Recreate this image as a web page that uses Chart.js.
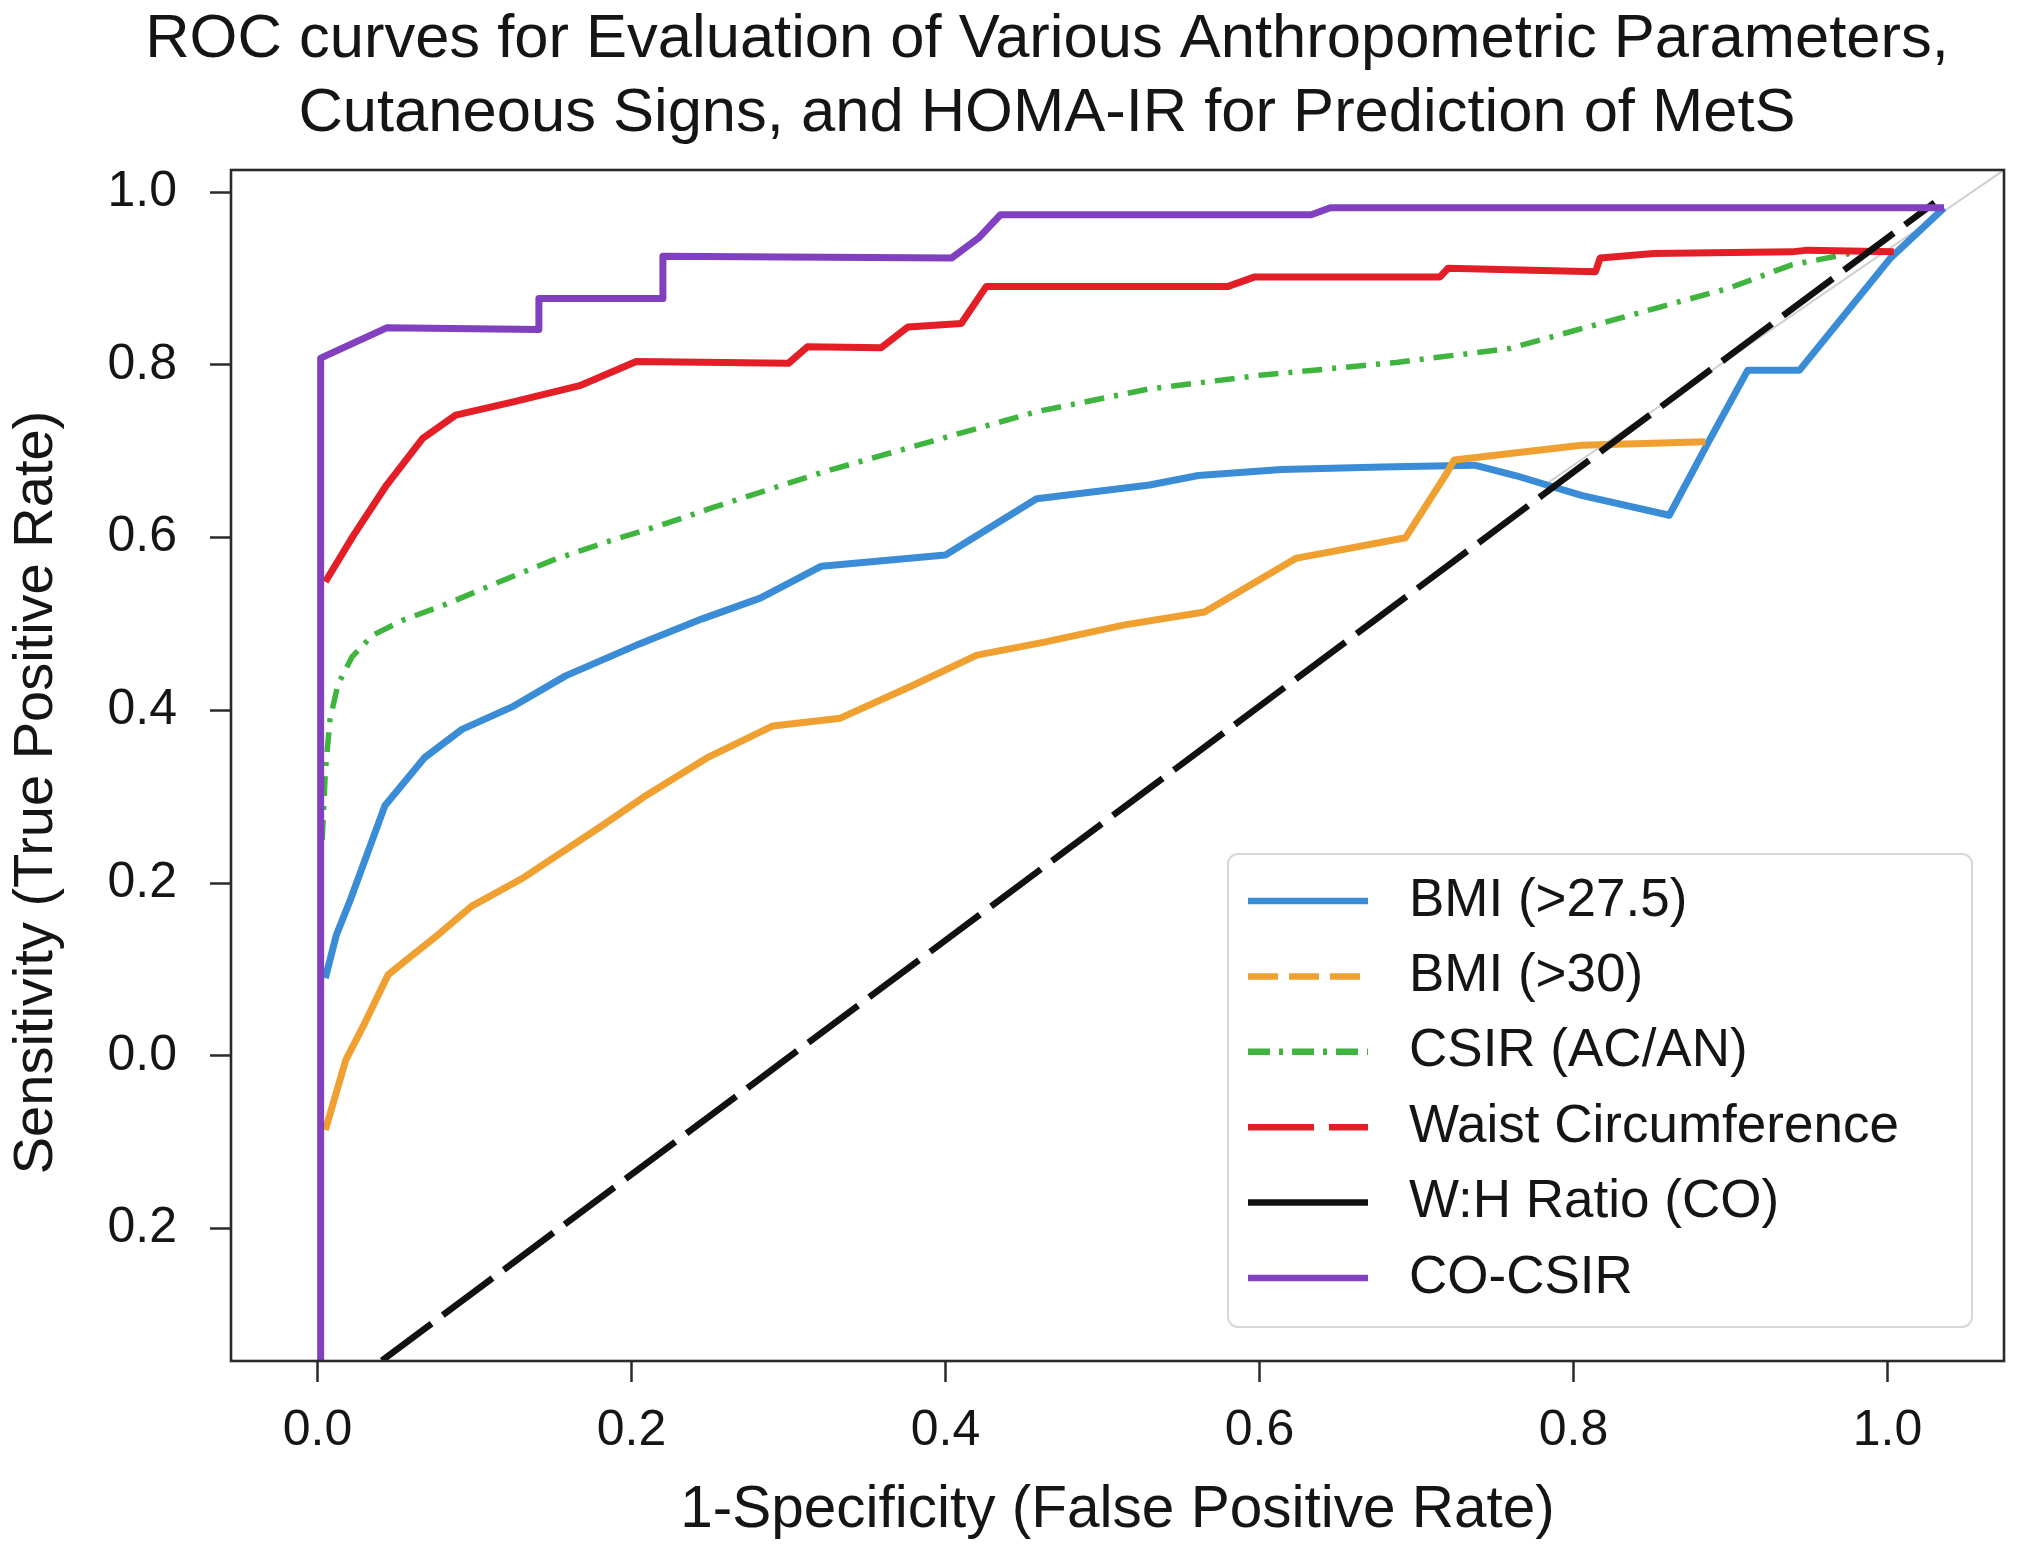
<!DOCTYPE html>
<html>
<head>
<meta charset="utf-8">
<script src="https://cdn.jsdelivr.net/npm/chart.js@4.4.1/dist/chart.umd.min.js"></script>
<style>
  html, body { margin: 0; padding: 0; background: #ffffff; }
  #wrap { width: 2017px; height: 1553px; position: relative; }
</style>
</head>
<body>
<div id="wrap"><canvas id="roc"></canvas></div>
<script>
// ---------------- data ----------------
const titleLines = [
  'ROC curves for Evaluation of Various Anthropometric Parameters,',
  'Cutaneous Signs, and HOMA-IR for Prediction of MetS'
];
const xAxisTitle = '1-Specificity (False Positive Rate)';
const yAxisTitle = 'Sensitivity (True Positive Rate)';

const xTicks = [0.0, 0.2, 0.4, 0.6, 0.8, 1.0];
const xTickLabels = ['0.0', '0.2', '0.4', '0.6', '0.8', '1.0'];
const yTicks = [-0.2, 0.0, 0.2, 0.4, 0.6, 0.8, 1.0];
const yTickLabels = ['0.2', '0.0', '0.2', '0.4', '0.6', '0.8', '1.0'];

const seriesNames = ['BMI (>27.5)', 'BMI (>30)', 'CSIR (AC/AN)', 'Waist Circumference', 'W:H Ratio (CO)', 'CO-CSIR'];

const bmi275Fpr = [0.005, 0.012, 0.021, 0.043, 0.068, 0.092, 0.125, 0.158, 0.205, 0.245, 0.282, 0.321, 0.400, 0.424, 0.458, 0.530, 0.561, 0.614, 0.678, 0.737, 0.763, 0.805, 0.861, 0.886, 0.911, 0.944, 1.002, 1.036];
const bmi275Tpr = [0.090, 0.140, 0.181, 0.290, 0.345, 0.378, 0.405, 0.440, 0.477, 0.506, 0.530, 0.567, 0.580, 0.607, 0.645, 0.661, 0.672, 0.679, 0.682, 0.684, 0.672, 0.649, 0.626, 0.711, 0.794, 0.794, 0.924, 0.982];

const bmi30Fpr = [0.005, 0.018, 0.029, 0.045, 0.058, 0.078, 0.098, 0.130, 0.155, 0.180, 0.208, 0.248, 0.290, 0.333, 0.378, 0.420, 0.463, 0.514, 0.565, 0.623, 0.693, 0.719, 0.724, 0.805, 0.884];
const bmi30Tpr = [-0.086, -0.005, 0.034, 0.094, 0.113, 0.142, 0.173, 0.205, 0.235, 0.265, 0.300, 0.345, 0.382, 0.391, 0.428, 0.464, 0.479, 0.499, 0.514, 0.576, 0.600, 0.674, 0.690, 0.707, 0.711];

const csirFpr = [0.003, 0.005, 0.008, 0.013, 0.022, 0.035, 0.055, 0.082, 0.116, 0.150, 0.184, 0.218, 0.252, 0.322, 0.390, 0.458, 0.529, 0.600, 0.687, 0.759, 0.829, 0.899, 0.939, 0.976];
const csirTpr = [0.250, 0.330, 0.390, 0.430, 0.462, 0.487, 0.505, 0.523, 0.549, 0.574, 0.595, 0.614, 0.635, 0.676, 0.711, 0.746, 0.772, 0.788, 0.803, 0.819, 0.854, 0.889, 0.916, 0.929];

const waistFpr = [0.005, 0.023, 0.044, 0.067, 0.088, 0.124, 0.167, 0.203, 0.300, 0.312, 0.359, 0.376, 0.410, 0.426, 0.580, 0.597, 0.715, 0.720, 0.814, 0.817, 0.851, 0.939, 0.949, 1.004];
const waistTpr = [0.549, 0.603, 0.661, 0.715, 0.742, 0.757, 0.776, 0.804, 0.802, 0.821, 0.820, 0.844, 0.848, 0.891, 0.891, 0.902, 0.902, 0.912, 0.908, 0.924, 0.929, 0.931, 0.933, 0.931];

const whRatioFpr = [0.041, 1.030];
const whRatioTpr = [-0.353, 0.988];

const coCsirFpr = [0.002, 0.002, 0.044, 0.141, 0.141, 0.220, 0.220, 0.404, 0.421, 0.435, 0.633, 0.645, 1.036];
const coCsirTpr = [-0.353, 0.808, 0.843, 0.841, 0.877, 0.877, 0.926, 0.924, 0.947, 0.974, 0.974, 0.982, 0.982];

const refLineFpr = [0.780, 1.0742];
const refLineTpr = [0.659, 1.0258];

// axis limits
const xMin = -0.0551, xMax = 1.0742;
const yMin = -0.3534, yMax = 1.0258;

// ---------------- helpers ----------------
const pts = (xs, ys) => xs.map((x, i) => ({ x: x, y: ys[i] }));
const FONT = "'Liberation Sans', Arial, Helvetica, sans-serif";
const INK = '#151515';

const colors = ['#3a8cd6', '#f0a030', '#3fb53f', '#e41e26', '#111111', '#8040c0'];
const plotDash = [[], [], [20, 10, 4, 10], [], [62, 14], []];
const legendDash = [[], [30, 11], [22, 9, 4, 9], [66, 15], [], []];
const plotWidth = [7, 7, 5.5, 7, 6.5, 7];
const drawOrder = [6, 5, 4, 3, 2, 1];

const seriesPoints = [
  pts(bmi275Fpr, bmi275Tpr),
  pts(bmi30Fpr, bmi30Tpr),
  pts(csirFpr, csirTpr),
  pts(waistFpr, waistTpr),
  pts(whRatioFpr, whRatioTpr),
  pts(coCsirFpr, coCsirTpr)
];

const datasets = seriesNames.map((name, i) => ({
  label: name,
  data: seriesPoints[i],
  borderColor: colors[i],
  backgroundColor: colors[i],
  borderWidth: plotWidth[i],
  borderDash: plotDash[i],
  borderJoinStyle: 'round',
  borderCapStyle: 'butt',
  pointRadius: 0,
  pointHoverRadius: 0,
  tension: 0,
  fill: false,
  order: drawOrder[i],
  legendDash: legendDash[i]
}));
datasets.push({
  label: '',
  data: pts(refLineFpr, refLineTpr),
  borderColor: '#cfcfcf',
  borderWidth: 2,
  pointRadius: 0,
  tension: 0,
  fill: false,
  order: 9,
  isReference: true
});

// ---------------- plugins ----------------
const framePlugin = {
  id: 'frame',
  afterDatasetsDraw(chart) {
    const { ctx, chartArea: a } = chart;
    ctx.save();
    ctx.strokeStyle = '#2a2a2a';
    ctx.lineWidth = 2.6;
    ctx.setLineDash([]);
    ctx.strokeRect(a.left, a.top, a.right - a.left, a.bottom - a.top);
    ctx.restore();
  }
};

const boxLegendPlugin = {
  id: 'boxLegend',
  afterDraw(chart) {
    const { ctx, chartArea: a } = chart;
    const W = 744, H = 473;
    const R = a.right - 32, B = a.bottom - 34;
    const L = R - W, T = B - H;
    ctx.save();
    ctx.beginPath();
    ctx.roundRect(L, T, W, H, 10);
    ctx.fillStyle = 'rgba(255,255,255,0.85)';
    ctx.fill();
    ctx.strokeStyle = '#d8d8d8';
    ctx.lineWidth = 2;
    ctx.stroke();
    const items = chart.data.datasets.filter(d => !d.isReference);
    items.forEach((d, i) => {
      const y = T + 47 + i * 75.4;
      ctx.beginPath();
      ctx.setLineDash(d.legendDash || []);
      ctx.strokeStyle = d.borderColor;
      ctx.lineWidth = 6.5;
      ctx.lineCap = 'butt';
      ctx.moveTo(L + 20, y);
      ctx.lineTo(L + 140, y);
      ctx.stroke();
      ctx.setLineDash([]);
      ctx.fillStyle = INK;
      ctx.font = '53px ' + FONT;
      ctx.textAlign = 'left';
      ctx.textBaseline = 'middle';
      ctx.fillText(d.label, L + 181, y);
    });
    ctx.restore();
  }
};

const titleCenterPlugin = {
  id: 'titleCenter',
  afterLayout(chart) {
    const tb = chart.titleBlock;
    if (tb) {
      const center = 1047;
      const half = (tb.right - tb.left) / 2;
      tb.left = center - half;
      tb.right = center + half;
    }
    const ys = chart.scales.y;
    if (ys && !ys._titleShifted) {
      const origDrawTitle = ys.drawTitle.bind(ys);
      ys.drawTitle = function () {
        const c = this.ctx;
        c.save();
        c.translate(0, 27);
        origDrawTitle();
        c.restore();
      };
      ys._titleShifted = true;
    }
  }
};

// ---------------- chart ----------------
Chart.defaults.font.family = FONT;
Chart.defaults.color = INK;

new Chart(document.getElementById('roc'), {
  type: 'line',
  data: { datasets: datasets },
  options: {
    responsive: true,
    maintainAspectRatio: false,
    devicePixelRatio: 1,
    animation: false,
    events: [],
    layout: { padding: { left: 0, right: 13, top: 0, bottom: 0 } },
    plugins: {
      legend: { display: false },
      tooltip: { enabled: false },
      title: {
        display: true,
        text: titleLines,
        color: INK,
        font: { family: FONT, size: 61.5, weight: 'normal', lineHeight: 1.2 },
        padding: { top: 3, bottom: 19.4 }
      }
    },
    scales: {
      x: {
        type: 'linear',
        min: xMin,
        max: xMax,
        afterBuildTicks: s => { s.ticks = xTicks.map(v => ({ value: v })); },
        afterFit: s => { s.height = 192; },
        ticks: {
          callback: v => xTickLabels[xTicks.indexOf(v)],
          font: { family: FONT, size: 50 },
          color: INK,
          padding: 19,
          maxRotation: 0,
          autoSkip: false
        },
        grid: { display: true, drawOnChartArea: false, drawTicks: true, tickLength: 21, tickWidth: 2.5, tickColor: '#2a2a2a' },
        border: { display: false },
        title: { display: true, text: xAxisTitle, color: INK, font: { family: FONT, size: 58.5 }, padding: { top: 0, bottom: 7 } }
      },
      y: {
        type: 'linear',
        min: yMin,
        max: yMax,
        afterBuildTicks: s => { s.ticks = yTicks.map(v => ({ value: v })); },
        afterFit: s => { s.width = 231; },
        ticks: {
          callback: v => yTickLabels[yTicks.indexOf(v)],
          font: { family: FONT, size: 50 },
          color: INK,
          padding: 33,
          autoSkip: false
        },
        grid: { display: true, drawOnChartArea: false, drawTicks: true, tickLength: 21, tickWidth: 2.5, tickColor: '#2a2a2a' },
        border: { display: false },
        title: { display: true, text: yAxisTitle, color: INK, font: { family: FONT, size: 56 }, padding: { top: 3, bottom: 0 } }
      }
    }
  },
  plugins: [titleCenterPlugin, framePlugin, boxLegendPlugin]
});
</script>
</body>
</html>
